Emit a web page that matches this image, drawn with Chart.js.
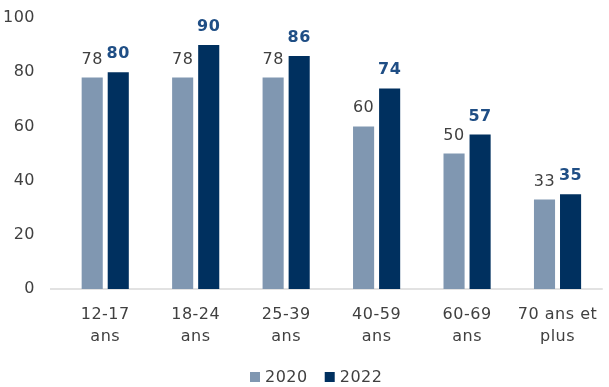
<!DOCTYPE html>
<html><head><meta charset="utf-8">
<script src="https://cdn.jsdelivr.net/npm/chart.js@4"></script>
<style>html,body{margin:0;padding:0;background:#fff}#wrap{width:609px;height:387px}</style>
</head><body><div id="wrap"><canvas id="c" width="609" height="387"></canvas></div>
<script>
const categories = [["12-17","ans"],["18-24","ans"],["25-39","ans"],["40-59","ans"],["60-69","ans"],["70 ans et","plus"]];
const seriesNames = ["2020","2022"];
const values2020 = [78,78,78,60,50,33];
const values2022 = [80,90,86,74,57,35];
const yTicks = [0,20,40,60,80,100];
const seriesColors = ['#8097B1','#00305F'];

const FONT = "'DejaVu Sans', Verdana, sans-serif";
const spacing = {
  id:'spacing',
  beforeDraw(chart){ chart.ctx.letterSpacing = '0.5px'; }
};
const labelPlugin = {
  id:'vals',
  afterDatasetsDraw(chart){
    const ctx = chart.ctx;
    chart.data.datasets.forEach((ds,i)=>{
      const meta = chart.getDatasetMeta(i);
      meta.data.forEach((bar,j)=>{
        ctx.save();
        ctx.font = (i===1?'bold ':'') + '16px ' + FONT;
        ctx.fillStyle = i===1 ? '#1F4E85' : '#404040';
        ctx.textAlign='center'; ctx.textBaseline='alphabetic';
        ctx.fillText(String(ds.data[j]), bar.x, bar.y - 14);
        ctx.restore();
      });
    });
  }
};
const baseLine = {
  id:'baseLine',
  beforeDatasetsDraw(chart){
    const y = chart.scales.y.getPixelForValue(0);
    const ctx = chart.ctx;
    ctx.save(); ctx.strokeStyle='#D9D9D9'; ctx.lineWidth=1.5;
    ctx.beginPath(); ctx.moveTo(50,y); ctx.lineTo(chart.chartArea.right,y); ctx.stroke(); ctx.restore();
  }
};
const catLabels = {
  id:'catLabels',
  afterDraw(chart){
    const ctx = chart.ctx, xs = chart.scales.x;
    const base = chart.chartArea.bottom;
    ctx.save();
    ctx.font = '16px ' + FONT; ctx.fillStyle = '#404040';
    ctx.textAlign = 'center'; ctx.textBaseline = 'alphabetic';
    chart.data.labels.forEach((lab,i)=>{
      const x = xs.getPixelForValue(i);
      lab.forEach((line,k)=>{ ctx.fillText(line, x, base + 30 + k*22); });
    });
    ctx.restore();
  }
};
const customLegend = {
  id:'customLegend',
  afterDraw(chart){
    const ctx = chart.ctx;
    ctx.save();
    ctx.font = '16px ' + FONT;
    const box = 10, gap = 5, itemGap = 17;
    let x = 250;
    const cy = 377;
    chart.data.datasets.forEach(d=>{
      ctx.fillStyle = d.backgroundColor;
      ctx.fillRect(x, cy-5, box, box);
      x += box + gap;
      ctx.fillStyle = '#404040';
      ctx.textAlign='left'; ctx.textBaseline='middle';
      ctx.fillText(d.label, x, cy+1);
      x += ctx.measureText(d.label).width + itemGap;
    });
    ctx.restore();
  }
};
new Chart(document.getElementById('c'),{
  type:'bar',
  data:{labels:categories,datasets:[
    {label:seriesNames[0],data:values2020,backgroundColor:seriesColors[0],barPercentage:0.81,categoryPercentage:0.576},
    {label:seriesNames[1],data:values2022,backgroundColor:seriesColors[1],barPercentage:0.81,categoryPercentage:0.576}
  ]},
  options:{
    responsive:false,animation:false,
    layout:{padding:{top:18,right:0,left:0,bottom:45}},
    scales:{
      x:{grid:{display:false},border:{display:false},
         afterFit(s){s.height=53;},
         ticks:{color:'rgba(0,0,0,0)',font:{family:FONT,size:16,lineHeight:1.2},padding:14,maxRotation:0,autoSkip:false}},
      y:{min:0,max:100,afterBuildTicks(s){s.ticks=yTicks.map(v=>({value:v}));},
         afterFit(s){s.width=60; s.paddingTop=9.6; s.paddingBottom=9.6;},
         grid:{display:false},border:{display:false},
         ticks:{color:'#404040',font:{family:FONT,size:16},padding:17}}
    },
    plugins:{legend:{display:false},tooltip:{enabled:false}}
  },
  plugins:[spacing,labelPlugin,baseLine,catLabels,customLegend]
});
</script></body></html>
